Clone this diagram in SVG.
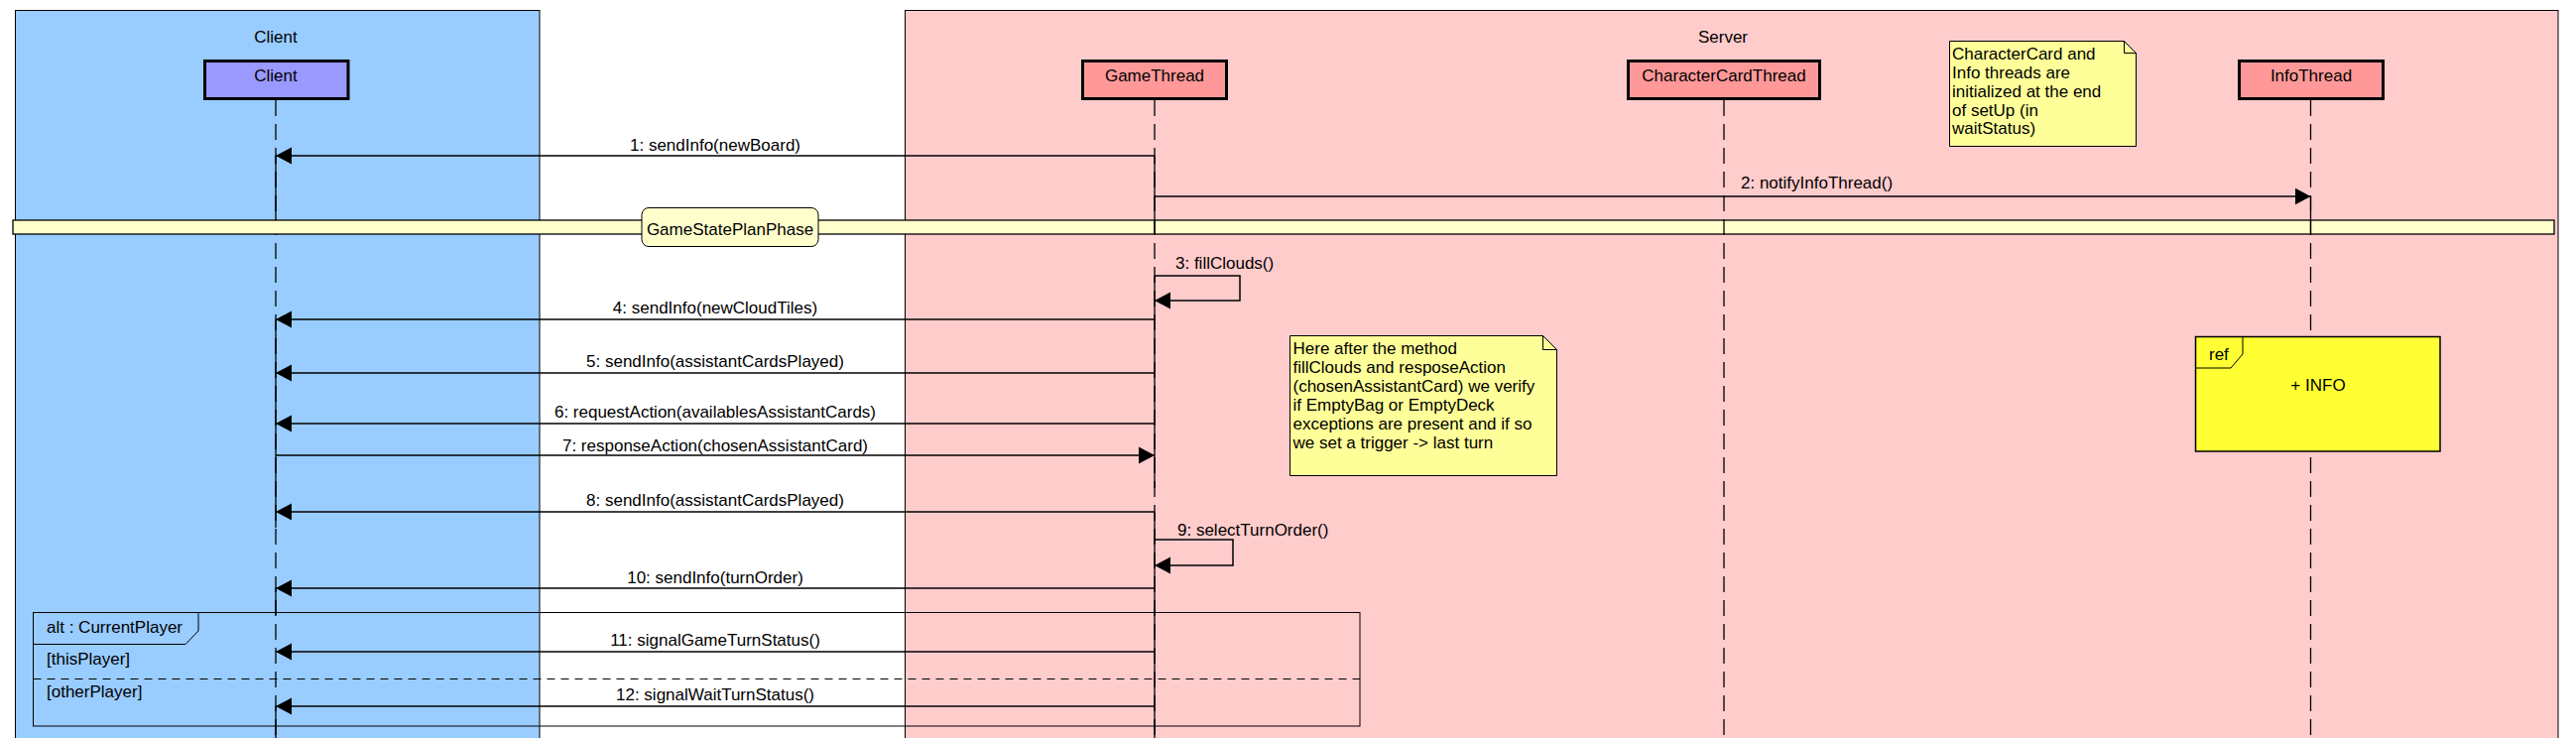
<svg xmlns="http://www.w3.org/2000/svg" width="2597" height="744" viewBox="0 0 2597 744">
<style>
text{font-family:"Liberation Sans",Arial,sans-serif;font-size:17px;fill:#000}
.mid{text-anchor:middle}
.grp{stroke:#000;stroke-width:1}
.part{stroke:#000;stroke-width:3}
.thread{fill:#FF9999}
.life{stroke:#000;stroke-width:1.3;stroke-dasharray:16 8;fill:none}
.solid{stroke:#000;stroke-width:1.3;fill:none}
.msg{stroke:#000;stroke-width:1.5;fill:none;marker-end:url(#ah)}
.note{fill:#FFFF99;stroke:#000;stroke-width:1}
</style>
<defs>
<marker id="ah" markerUnits="userSpaceOnUse" markerWidth="17" markerHeight="18" viewBox="0 0 17 18" refX="16" refY="9" orient="auto">
<path d="M0,0.5 L16,9 L0,17.5 z" fill="#000"/>
</marker>
</defs>
<rect width="2597" height="744" fill="#fff"/>
<g id="server-group">
<rect class="grp" x="912.5" y="10.5" width="1666.5" height="760" fill="#FFCCCC"/>
<text class="mid" x="1737" y="42.5">Server</text>
</g>
<g id="client-group">
<rect class="grp" x="15.5" y="10.5" width="528.5" height="760" fill="#99CCFF"/>
<text class="mid" x="278" y="42.5">Client</text>
</g>
<g id="client">
<rect class="part" x="206.5" y="61.5" width="144.5" height="38" fill="#9999FF"/>
<text class="mid" x="278" y="82">Client</text>
<line class="life" x1="278" y1="101" x2="278" y2="744"/>
<path class="solid" d="M278,157V222M278,322V532M278,593V620M278,712V744"/>
</g>
<g id="phase-band">
<rect x="13" y="222" width="2562" height="14" fill="#FFFFCC" stroke="#000" stroke-width="1.3"/>
<rect x="647" y="209.5" width="178" height="39" rx="7" fill="#FFFFCC" stroke="#000" stroke-width="1"/>
<text class="mid" x="736" y="236.5">GameStatePlanPhase</text>
</g>
<g id="gamethread">
<rect class="part thread" x="1091.5" y="61.5" width="145" height="38"/>
<text class="mid" x="1164" y="82">GameThread</text>
<line class="life" x1="1164" y1="101" x2="1164" y2="744"/>
<path class="solid" d="M1164,157V236M1164,278V492M1164,516V744"/>
</g>
<g id="charactercardthread">
<rect class="part thread" x="1641.5" y="61.5" width="193" height="38"/>
<text class="mid" x="1738" y="82">CharacterCardThread</text>
<line class="life" x1="1738" y1="101" x2="1738" y2="744"/>
</g>
<g id="infothread">
<rect class="part thread" x="2257.5" y="61.5" width="145" height="38"/>
<text class="mid" x="2330" y="82">InfoThread</text>
<line class="life" x1="2329.5" y1="101" x2="2329.5" y2="744"/>
<path class="solid" d="M2329.5,198V236"/>
</g>
<g id="note-init">
<path class="note" d="M1965.5,41.5H2141.5L2153.5,53.5V147.5H1965.5Z"/>
<path d="M2141.5,41.5V53.5H2153.5" fill="none" stroke="#000" stroke-width="1"/>
<text x="1968" y="60">CharacterCard and</text>
<text x="1968" y="79">Info threads are</text>
<text x="1968" y="98">initialized at the end</text>
<text x="1968" y="117">of setUp (in</text>
<text x="1968" y="135">waitStatus)</text>
</g>
<g id="note-verify">
<path class="note" d="M1300.5,338.5H1555.5L1569.5,352.5V479.5H1300.5Z"/>
<path d="M1555.5,338.5V352.5H1569.5" fill="none" stroke="#000" stroke-width="1"/>
<text x="1303.5" y="357">Here after the method</text>
<text x="1303.5" y="376">fillClouds and resposeAction</text>
<text x="1303.5" y="395">(chosenAssistantCard) we verify</text>
<text x="1303.5" y="414">if EmptyBag or EmptyDeck</text>
<text x="1303.5" y="433">exceptions are present and if so</text>
<text x="1303.5" y="452">we set a trigger -&gt; last turn</text>
</g>
<g id="ref-info">
<rect x="2213.5" y="339.5" width="246.5" height="115.5" fill="#FFFF33" stroke="#000" stroke-width="1.5"/>
<path d="M2213.5,371H2249L2261,357V339.5" fill="none" stroke="#000" stroke-width="1"/>
<text x="2227" y="362.5">ref</text>
<text class="mid" x="2337" y="394">+ INFO</text>
</g>
<g id="alt-frame">
<rect x="33.5" y="617.5" width="1337.5" height="114.5" fill="none" stroke="#000" stroke-width="1"/>
<path d="M33.5,649.5H187L200,636V617.5" fill="none" stroke="#000" stroke-width="1"/>
<line x1="33.5" y1="684.5" x2="1371" y2="684.5" stroke="#000" stroke-width="1" stroke-dasharray="8 6"/>
<text x="47" y="638">alt : CurrentPlayer</text>
<text x="47" y="670">[thisPlayer]</text>
<text x="47" y="703">[otherPlayer]</text>
</g>
<g id="connectors">
<line class="msg" x1="1164" y1="157" x2="278" y2="157"/>
<text class="mid" x="721" y="151.5">1: sendInfo(newBoard)</text>
<line class="msg" x1="1164" y1="198" x2="2329.5" y2="198"/>
<text x="1755" y="189.5">2: notifyInfoThread()</text>
<path class="msg" d="M1164,278H1250V303H1164"/>
<text x="1185" y="271">3: fillClouds()</text>
<line class="msg" x1="1164" y1="322" x2="278" y2="322"/>
<text class="mid" x="721" y="316">4: sendInfo(newCloudTiles)</text>
<line class="msg" x1="1164" y1="376" x2="278" y2="376"/>
<text class="mid" x="721" y="369.5">5: sendInfo(assistantCardsPlayed)</text>
<line class="msg" x1="1164" y1="427" x2="278" y2="427"/>
<text class="mid" x="721" y="421">6: requestAction(availablesAssistantCards)</text>
<line class="msg" x1="278" y1="459" x2="1164" y2="459"/>
<text class="mid" x="721" y="454.5">7: responseAction(chosenAssistantCard)</text>
<line class="msg" x1="1164" y1="516" x2="278" y2="516"/>
<text class="mid" x="721" y="510">8: sendInfo(assistantCardsPlayed)</text>
<path class="msg" d="M1164,544H1243V570H1164"/>
<text x="1187" y="539.5">9: selectTurnOrder()</text>
<line class="msg" x1="1164" y1="593" x2="278" y2="593"/>
<text class="mid" x="721" y="587.5">10: sendInfo(turnOrder)</text>
<line class="msg" x1="1164" y1="657" x2="278" y2="657"/>
<text class="mid" x="721" y="651">11: signalGameTurnStatus()</text>
<line class="msg" x1="1164" y1="712" x2="278" y2="712"/>
<text class="mid" x="721" y="706">12: signalWaitTurnStatus()</text>
</g>
</svg>
